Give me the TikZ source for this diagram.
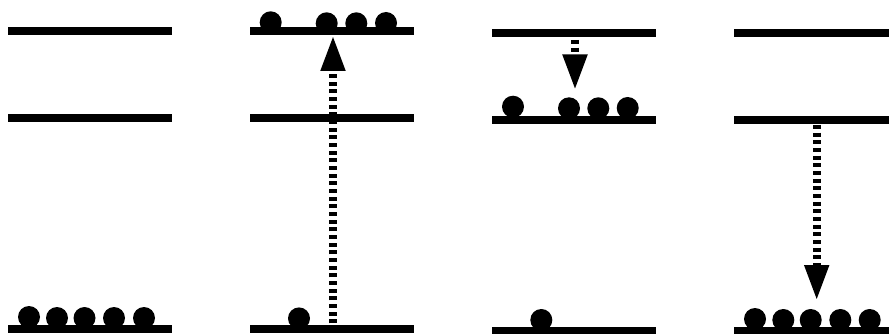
\documentclass[tikz,border=0pt]{standalone}
\usetikzlibrary{arrows.meta}
\tikzset{
  level/.style={fill=black,inner sep=0pt,outer sep=0pt,minimum width=164pt,minimum height=8pt},
  ball/.style={circle,fill=black,inner sep=0pt,outer sep=0pt,minimum size=22pt},
  transition/.style={line width=7.6pt,dash pattern=on 4pt off 3.67pt,
    -{Triangle[length=35.5pt,width=23pt]}}
}
\begin{document}
\begin{tikzpicture}[x=1pt,y=-1pt]
\useasboundingbox (0,0) rectangle (889,334);
% balls, column 1
\node[ball] (a1) at (29,317) {};
\node[ball] (a2) at (57,318) {};
\node[ball] (a3) at (84.5,318) {};
\node[ball] (a4) at (114,318) {};
\node[ball] (a5) at (144,318) {};
% column 2
\node[ball] (b1) at (270.7,22.3) {};
\node[ball] (b2) at (326.7,23.3) {};
\node[ball] (b3) at (356.3,23.3) {};
\node[ball] (b4) at (386,23) {};
\node[ball] (b5) at (299,318.4) {};
% column 3
\node[ball] (c1) at (513,106.7) {};
\node[ball] (c2) at (569,108.3) {};
\node[ball] (c3) at (598.3,108.3) {};
\node[ball] (c4) at (627.7,108) {};
\node[ball] (c5) at (541.3,320) {};
% column 4
\node[ball] (d1) at (755,319) {};
\node[ball] (d2) at (783.3,320) {};
\node[ball] (d3) at (810.7,320) {};
\node[ball] (d4) at (840.3,320) {};
\node[ball] (d5) at (869.7,320) {};
% levels
\node[level] (la3) at (90,31.2) {};
\node[level] (la2) at (90,117.8) {};
\node[level] (la1) at (90,329.2) {};
\node[level] (lb3) at (332,31.2) {};
\node[level] (lb2) at (332,117.8) {};
\node[level] (lb1) at (332,329.2) {};
\node[level] (lc3) at (574,33.2) {};
\node[level] (lc2) at (574,119.8) {};
\node[level] (lc1) at (574,331.2) {};
\node[level,minimum width=155pt] (ld3) at (811.5,33.2) {};
\node[level,minimum width=155pt] (ld2) at (811.5,119.8) {};
\node[level,minimum width=155pt] (ld1) at (811.5,331.2) {};
% transitions
\coordinate (s1) at (333,323.3);
\coordinate (e1) at (333,35.5);
\coordinate (s2) at (575,40);
\coordinate (e2) at (575,90);
\coordinate (s3) at (816.7,125);
\coordinate (e3) at (816.7,300.5);
\draw[transition] (s1) -- (e1);
\draw[transition] (s2) -- (e2);
\draw[transition] (s3) -- (e3);
\end{tikzpicture}
\end{document}
